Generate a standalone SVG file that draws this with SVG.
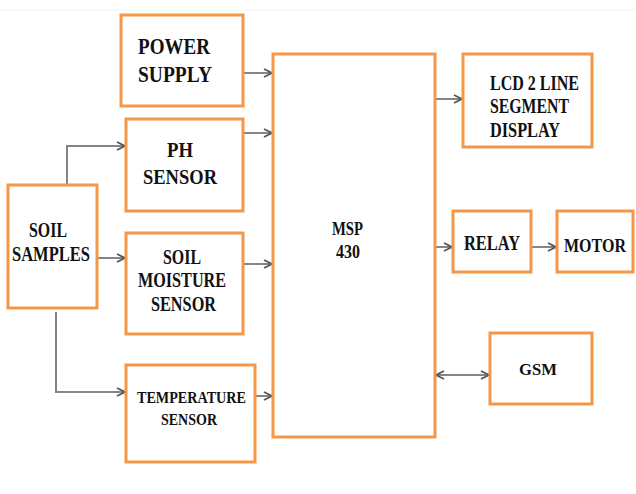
<svg xmlns="http://www.w3.org/2000/svg" width="636" height="494" viewBox="0 0 636 494">
<defs>
<style>
.box{fill:#fff;stroke:#f79646;stroke-width:3}
.t{font-family:"Liberation Serif","Times New Roman",serif;font-weight:bold;fill:#111}
.c{fill:none;stroke:#858585;stroke-width:2}
</style>
<marker id="ah" viewBox="0 0 10 10" refX="9" refY="5" markerWidth="10" markerHeight="10" markerUnits="userSpaceOnUse" orient="auto-start-reverse">
<path d="M1,1 L9,5 L1,9" fill="none" stroke="#555" stroke-width="1.8"/>
</marker>
</defs>
<rect width="636" height="494" fill="#fff"/>
<line x1="0" y1="10" x2="636" y2="10" stroke="#f2f2f2" stroke-width="1"/>
<g id="connectors">
<path class="c" d="M243,73 H272" marker-end="url(#ah)"/>
<path class="c" d="M243,133 H272" stroke-width="3" marker-end="url(#ah)"/>
<path class="c" d="M67,185 V146 H125" marker-end="url(#ah)"/>
<path class="c" d="M97,258 H125" marker-end="url(#ah)"/>
<path class="c" d="M56,312 V392 H125" marker-end="url(#ah)"/>
<path class="c" d="M243,264 H272" marker-end="url(#ah)"/>
<path class="c" d="M255,396 H272" marker-end="url(#ah)"/>
<path class="c" d="M435,99 H462" marker-end="url(#ah)"/>
<path class="c" d="M435,247 H452" marker-end="url(#ah)"/>
<path class="c" d="M531,247 H556" marker-end="url(#ah)"/>
<path class="c" d="M436,375 H489" marker-start="url(#ah)" marker-end="url(#ah)"/>
</g>
<g id="power-supply">
<rect class="box" x="121" y="15" width="122" height="91"/>
<text class="t" x="138" y="54" font-size="24" textLength="72" lengthAdjust="spacingAndGlyphs">POWER</text>
<text class="t" x="138" y="82" font-size="24" textLength="74" lengthAdjust="spacingAndGlyphs">SUPPLY</text>
</g>
<g id="ph-sensor">
<rect class="box" x="126" y="119" width="117" height="92"/>
<text class="t" x="167" y="157" font-size="22" textLength="26" lengthAdjust="spacingAndGlyphs">PH</text>
<text class="t" x="143" y="184" font-size="22" textLength="74" lengthAdjust="spacingAndGlyphs">SENSOR</text>
</g>
<g id="soil-samples">
<rect class="box" x="8" y="185" width="89" height="123"/>
<text class="t" x="29" y="237" font-size="20" textLength="38" lengthAdjust="spacingAndGlyphs">SOIL</text>
<text class="t" x="12" y="261" font-size="20" textLength="78" lengthAdjust="spacingAndGlyphs">SAMPLES</text>
</g>
<g id="soil-moisture-sensor">
<rect class="box" x="126" y="233" width="117" height="101"/>
<text class="t" x="163" y="264" font-size="20" textLength="38" lengthAdjust="spacingAndGlyphs">SOIL</text>
<text class="t" x="138" y="287" font-size="20" textLength="88" lengthAdjust="spacingAndGlyphs">MOISTURE</text>
<text class="t" x="151" y="311" font-size="20" textLength="65" lengthAdjust="spacingAndGlyphs">SENSOR</text>
</g>
<g id="temperature-sensor">
<rect class="box" x="126" y="365" width="129" height="97"/>
<text class="t" x="137" y="403" font-size="17" textLength="109" lengthAdjust="spacingAndGlyphs">TEMPERATURE</text>
<text class="t" x="161" y="425" font-size="17" textLength="56" lengthAdjust="spacingAndGlyphs">SENSOR</text>
</g>
<g id="msp430">
<rect class="box" x="273" y="54" width="162" height="383"/>
<text class="t" x="332" y="235" font-size="18" textLength="31" lengthAdjust="spacingAndGlyphs">MSP</text>
<text class="t" x="336" y="258" font-size="18" textLength="24" lengthAdjust="spacingAndGlyphs">430</text>
</g>
<g id="lcd-display">
<rect class="box" x="463" y="54" width="129" height="93"/>
<text class="t" x="490" y="90" font-size="21" textLength="89" lengthAdjust="spacingAndGlyphs">LCD 2 LINE</text>
<text class="t" x="490" y="113" font-size="21" textLength="79" lengthAdjust="spacingAndGlyphs">SEGMENT</text>
<text class="t" x="490" y="137" font-size="21" textLength="70" lengthAdjust="spacingAndGlyphs">DISPLAY</text>
</g>
<g id="relay">
<rect class="box" x="453" y="211" width="78" height="61"/>
<text class="t" x="464" y="250" font-size="20" textLength="56" lengthAdjust="spacingAndGlyphs">RELAY</text>
</g>
<g id="motor">
<rect class="box" x="557" y="211" width="76" height="61"/>
<text class="t" x="564" y="252" font-size="18" textLength="62" lengthAdjust="spacingAndGlyphs">MOTOR</text>
</g>
<g id="gsm">
<rect class="box" x="490" y="333" width="102" height="71"/>
<text class="t" x="519" y="375" font-size="17" textLength="38" lengthAdjust="spacingAndGlyphs">GSM</text>
</g>
</svg>
